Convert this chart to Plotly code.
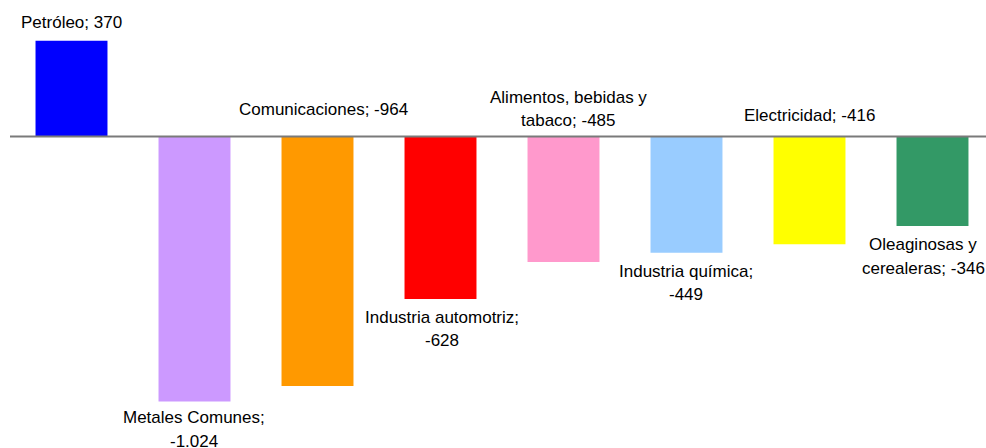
import plotly.graph_objects as go

# Sector balances (millones), one bar per sector
sectors = [
    "Petróleo",
    "Metales Comunes",
    "Comunicaciones",
    "Industria automotriz",
    "Alimentos, bebidas y tabaco",
    "Industria química",
    "Electricidad",
    "Oleaginosas y cerealeras",
]
values = [370, -1024, -964, -628, -485, -449, -416, -346]
bar_colors = ["#0000FF", "#CC99FF", "#FF9900", "#FF0000",
              "#FF99CC", "#99CCFF", "#FFFF00", "#339966"]

# Where each data label wraps onto a second line (None = single line)
wrap_after = [None, ";", None, ";", "bebidas y", ";", None, "Oleaginosas y"]

# Label placement: anchor at bar end ("end") or at the zero line ("zero"),
# then pixel offsets for the first line centre
label_anchor = ["end", "end", "zero", "end", "zero", "end", "zero", "end"]
label_dy = [18.5, -16.5, 27, -18.5, 39.5, -18.7, 21, -18.8]
label_dx = [-0.5, -0.5, 5.5, 1.5, 5, -0.5, 0, -9.5]
LINE_GAP = 23.5


def fmt_value(v):
    return f"{v:,}".replace(",", ".")


def label_lines(name, v, brk):
    full = f"{name}; {fmt_value(v)}"
    if brk is None:
        return [full]
    cut = full.index(brk) + len(brk)
    return [full[:cut].strip(), full[cut:].strip()]


x_pos = list(range(len(sectors)))

fig = go.Figure(
    go.Bar(
        x=x_pos,
        y=values,
        marker=dict(color=bar_colors, line=dict(width=0)),
        width=0.585,
        hoverinfo="skip",
    )
)

annotations = []
for i, (name, v) in enumerate(zip(sectors, values)):
    lines = label_lines(name, v, wrap_after[i])
    y_anchor = v if label_anchor[i] == "end" else 0
    for k, line in enumerate(lines):
        annotations.append(dict(
            x=x_pos[i], y=y_anchor, xref="x", yref="y",
            text=line, showarrow=False,
            xanchor="center", yanchor="middle",
            xshift=label_dx[i], yshift=label_dy[i] - k * LINE_GAP,
            font=dict(family="Liberation Sans, Arial, sans-serif", size=17, color="#000000"),
        ))

fig.update_layout(
    width=986,
    height=448,
    margin=dict(l=10, r=0, t=0, b=0),
    paper_bgcolor="white",
    plot_bgcolor="white",
    showlegend=False,
    xaxis=dict(range=[-0.5, 7.435], showticklabels=False, showgrid=False,
               zeroline=False, showline=False, ticks=""),
    yaxis=dict(range=[-1204, 527.6], showticklabels=False, showgrid=False,
               zeroline=False, showline=False, ticks=""),
    annotations=annotations,
    shapes=[dict(type="line", xref="paper", yref="y", x0=0, x1=1, y0=0, y1=0,
                 line=dict(color="#7A7A7A", width=2), layer="above")],
)

fig.write_html("out.html")
